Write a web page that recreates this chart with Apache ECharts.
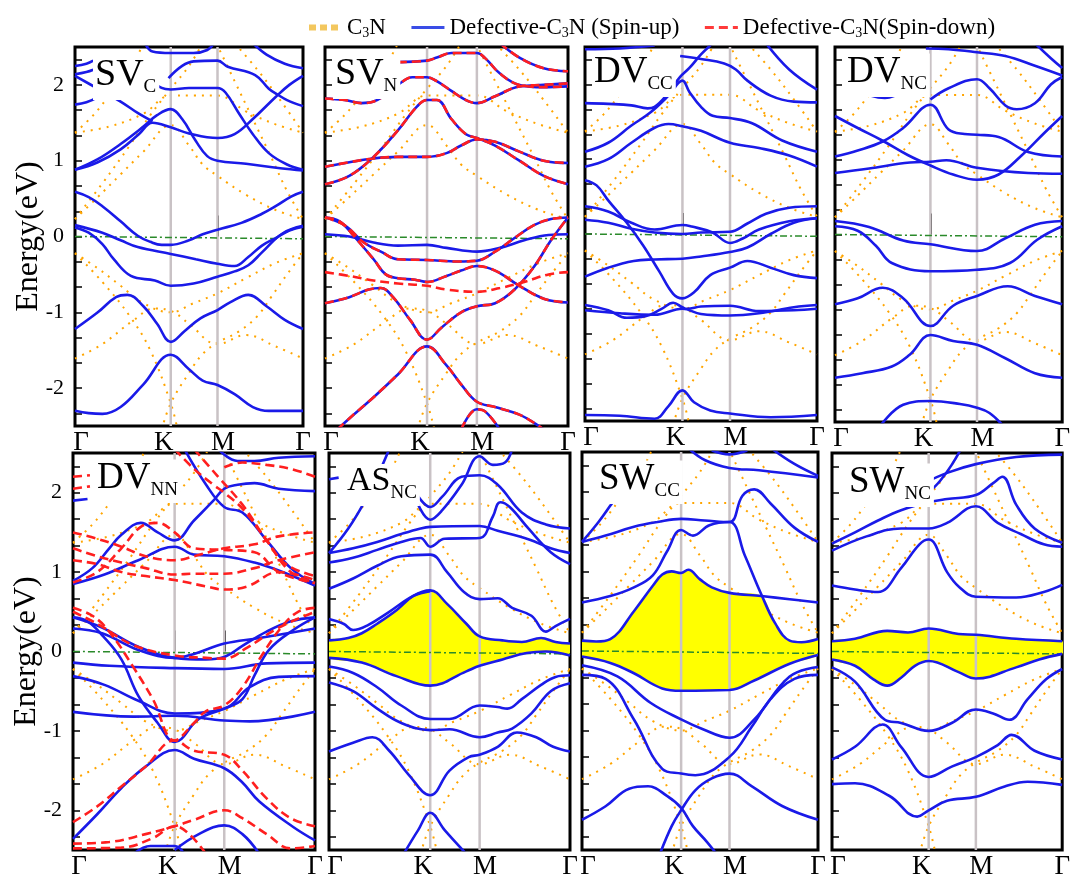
<!DOCTYPE html>
<html><head><meta charset="utf-8">
<script src="https://cdn.jsdelivr.net/npm/echarts@6/dist/echarts.min.js"></script>
<style>html,body{margin:0;padding:0;background:#fff}#chart{width:1073px;height:880px}</style>
</head><body><div id="chart"></div>
<script>
// ---------------- DATA ----------------
const xTickValues = [0, 0.42, 0.625, 1];          // Γ K M Γ
const xTickNames = ['Γ', 'K', 'M', 'Γ'];
const symPoints = [0.42, 0.625];                    // K, M
const yLabelValues = [-2, -1, 0, 1, 2];
const yTickValues = [-2.333,-2,-1.667,-1.333,-1,-0.667,-0.333,0,0.333,0.667,1,1.333,1.667,2,2.333];
const fermiLine = [[0, 0], [1, -0.03]];
const energyRange = [-2.5, 2.5];

// pristine C3N (dotted orange)
const c3nBands = [
 [[0,1.37],[0.15,1.45],[0.3,1.62],[0.42,1.86],[0.52,1.86],[0.625,1.86],[0.75,1.65],[0.88,1.48],[1,1.37]],
 [[0,0.23],[0.1,0.52],[0.2,0.82],[0.3,1.12],[0.42,1.47],[0.5,1.2],[0.56,0.95],[0.625,0.8],[0.75,0.55],[0.88,0.35],[1,0.23]],
 [[0,0.23],[0.12,0.7],[0.24,1.2],[0.33,1.6],[0.42,1.95],[0.5,2.25],[0.56,2.55]],
 [[0.62,2.55],[0.7,2.05],[0.78,1.55],[0.86,1.05],[0.93,0.6],[1,0.23]],
 [[0,-0.22],[0.1,-0.42],[0.2,-0.65],[0.3,-0.88],[0.42,-1.0],[0.52,-0.88],[0.625,-0.75],[0.75,-0.55],[0.88,-0.35],[1,-0.22]],
 [[0,-0.22],[0.12,-0.6],[0.24,-1.05],[0.33,-1.5],[0.42,-2.2],[0.45,-2.55]],
 [[0.38,-2.55],[0.42,-2.2],[0.5,-1.8],[0.56,-1.55],[0.625,-1.4],[0.72,-1.25],[0.8,-1.05],[0.86,-0.8],[0.93,-0.5],[1,-0.22]],
 [[0,-1.61],[0.12,-1.42],[0.25,-1.12],[0.35,-0.95],[0.42,-0.98],[0.5,-1.15],[0.625,-1.42],[0.75,-1.3],[0.88,-1.45],[1,-1.61]],
 [[0,1.37],[0.08,1.6],[0.16,1.9],[0.24,2.2],[0.3,2.55]],
 [[0.7,2.55],[0.8,2.2],[0.9,1.8],[1,1.37]]
];

// SV_C
const svC_up = [
 [[0,-2.30],[0.06,-2.33],[0.12,-2.34],[0.2,-2.25],[0.3,-1.95],[0.42,-1.56],[0.5,-1.75],[0.56,-1.9],[0.625,-1.96],[0.7,-2.08],[0.78,-2.25],[0.85,-2.30],[1,-2.30]],
 [[0,-1.22],[0.1,-1.0],[0.18,-0.8],[0.23,-0.77],[0.3,-0.92],[0.36,-1.15],[0.42,-1.39],[0.48,-1.25],[0.55,-1.08],[0.625,-0.97],[0.68,-0.87],[0.76,-0.77],[0.84,-0.92],[0.92,-1.1],[1,-1.22]],
 [[0,0.12],[0.06,0.05],[0.12,-0.1],[0.17,-0.3],[0.245,-0.52],[0.35,-0.58],[0.42,-0.65],[0.52,-0.62],[0.625,-0.53],[0.7,-0.46],[0.76,-0.38],[0.82,-0.21],[0.91,0.04],[1,0.14]],
 [[0,0.15],[0.12,0.05],[0.2,-0.05],[0.275,-0.14],[0.42,-0.23],[0.53,-0.3],[0.625,-0.36],[0.7,-0.39],[0.76,-0.27],[0.82,-0.12],[0.88,-0.02],[0.94,0.08],[1,0.13]],
 [[0,0.59],[0.06,0.52],[0.12,0.40],[0.2,0.2],[0.275,0.01],[0.33,-0.07],[0.38,-0.11],[0.42,-0.11],[0.5,-0.05],[0.56,0.03],[0.625,0.09],[0.73,0.18],[0.82,0.3],[0.88,0.4],[0.95,0.53],[1,0.59]],
 [[0,0.88],[0.1,1.02],[0.2,1.22],[0.3,1.45],[0.36,1.6],[0.42,1.68],[0.47,1.55],[0.53,1.26],[0.58,1.06],[0.625,1.0],[0.75,0.96],[0.9,0.9],[1,0.87]],
 [[0,0.88],[0.1,0.98],[0.2,1.15],[0.28,1.35],[0.34,1.5],[0.42,1.44],[0.5,1.36],[0.625,1.30],[0.7,1.35],[0.78,1.55],[0.88,1.84],[0.94,2.0],[1,2.12]],
 [[0,2.12],[0.1,1.95],[0.2,1.78],[0.28,1.62],[0.34,1.52]],
 [[0.33,2.08],[0.38,1.96],[0.42,1.94],[0.5,1.96],[0.625,1.96],[0.66,1.9],[0.72,1.62],[0.78,1.35],[0.85,1.1],[0.93,0.95],[1,0.88]],
 [[0.41,2.09],[0.47,2.25],[0.52,2.31],[0.625,2.32],[0.67,2.24],[0.79,2.13],[0.85,1.95],[0.89,1.87],[0.93,1.8],[1,1.72]],
 [[0,1.74],[0.05,1.77],[0.1,1.84]],
 [[0,2.25],[0.05,2.28],[0.08,2.32]],
 [[0,2.14],[0.05,2.17],[0.08,2.2]],
 [[0.3,2.6],[0.34,2.44],[0.42,2.42],[0.52,2.42],[0.58,2.46],[0.61,2.55]],
 [[0.78,2.55],[0.84,2.4],[0.92,2.28],[1,2.22]]
];

// SV_N : bands common to both spins, spin-up only, spin-down only
const svN_both = [
 [[0,0.92],[0.1,0.98],[0.2,1.03],[0.3,1.05],[0.42,1.05],[0.5,1.1],[0.56,1.2],[0.625,1.28],[0.7,1.25],[0.8,1.12],[0.9,1.0],[1,0.97]],
 [[0,0.69],[0.1,0.8],[0.2,1.05],[0.3,1.4],[0.38,1.72],[0.42,1.8],[0.46,1.8],[0.52,1.55],[0.58,1.35],[0.625,1.3],[0.7,1.2],[0.8,1.0],[0.9,0.8],[1,0.69]],
 [[0,1.82],[0.08,1.8],[0.15,1.76],[0.2,1.78],[0.3,2.0],[0.36,2.1],[0.42,2.1],[0.46,2.05],[0.52,1.92],[0.58,1.8],[0.625,1.76],[0.7,1.85],[0.8,1.98],[0.9,2.0],[1,2.02]],
 [[0.3,2.3],[0.42,2.32],[0.46,2.36],[0.52,2.42],[0.625,2.42],[0.66,2.35],[0.72,2.15],[0.8,2.0],[0.9,1.97],[1,1.98]],
 [[0.72,2.55],[0.8,2.36],[0.9,2.22],[1,2.18]],
 [[0,0.25],[0.06,0.2],[0.12,0.0],[0.2,-0.3],[0.25,-0.5],[0.3,-0.55],[0.37,-0.57],[0.42,-0.6],[0.5,-0.52],[0.56,-0.45],[0.625,-0.39],[0.7,-0.45],[0.8,-0.65],[0.9,-0.82],[1,-0.87]],
 [[0,0.25],[0.08,0.15],[0.16,-0.08],[0.23,-0.2],[0.3,-0.3],[0.42,-0.31],[0.55,-0.33],[0.625,-0.32],[0.7,-0.2],[0.78,-0.02],[0.86,0.15],[0.93,0.23],[1,0.25]],
 [[0,-0.88],[0.1,-0.8],[0.18,-0.7],[0.23,-0.68],[0.28,-0.8],[0.35,-1.1],[0.42,-1.36],[0.48,-1.2],[0.56,-1.0],[0.625,-0.92],[0.7,-0.88],[0.78,-0.7],[0.86,-0.4],[0.93,-0.05],[1,0.25]],
 [[0.05,-2.55],[0.1,-2.4],[0.2,-2.12],[0.3,-1.82],[0.42,-1.45],[0.5,-1.7],[0.56,-1.95],[0.625,-2.18],[0.7,-2.25],[0.8,-2.35],[0.88,-2.5],[0.92,-2.6]],
 [[0.56,-2.55],[0.625,-2.28],[0.66,-2.31],[0.72,-2.55]]
];
const svN_upOnly = [
 [[0,0.03],[0.1,0.0],[0.2,-0.08],[0.3,-0.12],[0.42,-0.11],[0.5,-0.15],[0.625,-0.2],[0.72,-0.15],[0.82,-0.05],[0.92,0.02],[1,0.03]]
];
const svN_downOnly = [
 [[0,-0.47],[0.1,-0.52],[0.2,-0.58],[0.3,-0.62],[0.42,-0.65],[0.5,-0.7],[0.625,-0.73],[0.72,-0.68],[0.82,-0.6],[0.92,-0.5],[1,-0.47]]
];

// DV_CC
const dvCC_up = [
 [[0,-2.42],[0.15,-2.43],[0.3,-2.47],[0.36,-2.3],[0.42,-2.09],[0.47,-2.25],[0.54,-2.36],[0.625,-2.4],[0.8,-2.45],[1,-2.42]],
 [[0,-0.95],[0.1,-1.02],[0.18,-1.12],[0.26,-1.1],[0.33,-1.0],[0.38,-0.92],[0.42,-0.98],[0.44,-1.0],[0.5,-0.97],[0.625,-0.96],[0.75,-1.03],[0.9,-1.02],[1,-1.0]],
 [[0,-1.02],[0.15,-1.06],[0.3,-1.08],[0.42,-1.0],[0.5,-1.07],[0.625,-1.09],[0.75,-1.06],[0.9,-0.98],[1,-0.95]],
 [[0,-0.57],[0.1,-0.45],[0.21,-0.36],[0.3,-0.34],[0.42,-0.33],[0.5,-0.3],[0.625,-0.24],[0.7,-0.18],[0.8,0.0],[0.9,0.15],[1,0.21]],
 [[0,0.72],[0.05,0.65],[0.1,0.45],[0.18,0.15],[0.25,-0.15],[0.32,-0.5],[0.38,-0.8],[0.42,-0.86],[0.47,-0.78],[0.54,-0.55],[0.625,-0.45],[0.7,-0.36],[0.8,-0.45],[0.9,-0.55],[1,-0.59]],
 [[0,0.37],[0.1,0.3],[0.2,0.15],[0.3,0.06],[0.42,0.12],[0.46,0.1],[0.55,0.02],[0.625,-0.12],[0.68,-0.06],[0.75,0.06],[0.88,0.17],[1,0.21]],
 [[0,0.19],[0.1,0.15],[0.2,0.07],[0.3,0.02],[0.42,0.0],[0.5,0.02],[0.625,0.03],[0.7,0.14],[0.78,0.27],[0.88,0.35],[1,0.37]],
 [[0,0.9],[0.1,1.0],[0.2,1.22],[0.3,1.42],[0.36,1.47],[0.42,1.44],[0.5,1.38],[0.625,1.22],[0.75,1.15],[0.88,1.05],[1,0.9]],
 [[0,1.1],[0.1,1.22],[0.2,1.45],[0.28,1.62],[0.36,1.85],[0.42,2.05],[0.45,1.9],[0.5,1.7],[0.55,1.58],[0.625,1.55],[0.72,1.48],[0.85,1.25],[1,1.1]],
 [[0,1.75],[0.1,1.74],[0.2,1.72],[0.27,1.68],[0.3,1.7],[0.35,1.85],[0.41,2.1],[0.45,2.22],[0.5,2.4],[0.55,2.55]],
 [[0.41,2.38],[0.5,2.34],[0.6,2.28],[0.65,2.2],[0.7,2.05],[0.8,1.85],[0.9,1.77],[1,1.76]],
 [[0.78,2.55],[0.88,2.2],[1,1.93]],
 [[0,2.47],[0.15,2.48],[0.3,2.52]]
];

// DV_NC
const dvNC_up = [
 [[0.2,-2.55],[0.3,-2.27],[0.42,-2.22],[0.55,-2.26],[0.625,-2.31],[0.68,-2.38],[0.74,-2.55]],
 [[0,-1.91],[0.12,-1.85],[0.25,-1.76],[0.33,-1.6],[0.42,-1.34],[0.52,-1.42],[0.625,-1.47],[0.75,-1.65],[0.88,-1.85],[1,-1.91]],
 [[0,-0.93],[0.1,-0.85],[0.21,-0.71],[0.3,-0.85],[0.42,-1.22],[0.52,-0.95],[0.625,-0.82],[0.76,-0.69],[0.88,-0.82],[1,-0.93]],
 [[0,0.11],[0.1,0.05],[0.18,-0.15],[0.25,-0.38],[0.42,-0.49],[0.625,-0.47],[0.77,-0.38],[0.89,-0.07],[1,0.11]],
 [[0,0.18],[0.15,0.1],[0.3,-0.08],[0.42,-0.13],[0.625,-0.22],[0.75,-0.05],[0.88,0.13],[1,0.18]],
 [[0,0.82],[0.15,0.88],[0.33,0.96],[0.42,0.97],[0.49,0.99],[0.625,0.89],[0.85,0.82],[1,0.81]],
 [[0,1.04],[0.1,1.12],[0.21,1.24],[0.3,1.42],[0.42,1.73],[0.5,1.4],[0.57,1.34],[0.625,1.33],[0.72,1.3],[0.85,1.1],[1,1.04]],
 [[0,1.58],[0.1,1.42],[0.21,1.25],[0.32,1.06],[0.42,0.92],[0.52,0.8],[0.625,0.73],[0.72,0.8],[0.82,1.05],[0.92,1.35],[1,1.58]],
 [[0.09,1.95],[0.16,1.85],[0.22,1.82],[0.28,1.87],[0.33,1.93]],
 [[0.42,1.8],[0.5,1.95],[0.625,2.07],[0.68,1.95],[0.75,1.72],[0.8,1.67],[0.88,1.75],[0.95,2.0],[1,2.1]],
 [[0.4,2.48],[0.5,2.47],[0.625,2.43],[0.75,2.38],[0.88,2.25],[1,2.12]],
 [[0.88,2.55],[0.95,2.35],[1,2.22]]
];

// DV_NN
const dvNN_up = [
 [[0,0.43],[0.06,0.38],[0.125,0.19],[0.2,-0.1],[0.27,-0.56],[0.35,-0.9],[0.42,-1.14],[0.52,-0.85],[0.625,-0.72],[0.7,-0.6],[0.75,-0.3],[0.81,0.02],[0.91,0.27],[1,0.43]],
 [[0,-2.36],[0.1,-2.05],[0.2,-1.72],[0.3,-1.45],[0.42,-1.24],[0.5,-1.35],[0.625,-1.47],[0.7,-1.65],[0.77,-1.89],[0.91,-2.21],[1,-2.38]],
 [[0,-0.14],[0.15,-0.18],[0.42,-0.21],[0.625,-0.22],[0.8,-0.15],[1,-0.14]],
 [[0,0.29],[0.12,0.23],[0.27,0.02],[0.42,-0.08],[0.5,-0.03],[0.625,0.1],[0.77,0.17],[1,0.29]],
 [[0,0.43],[0.12,0.3],[0.27,0.06],[0.42,-0.08],[0.55,-0.1],[0.625,-0.07],[0.7,0.07],[0.8,0.25],[0.9,0.38],[1,0.43]],
 [[0,-0.31],[0.13,-0.42],[0.27,-0.62],[0.42,-0.78],[0.625,-0.72],[0.73,-0.45],[0.85,-0.32],[1,-0.31]],
 [[0,-0.76],[0.25,-0.82],[0.42,-0.81],[0.625,-0.87],[0.73,-0.88],[1,-0.76]],
 [[0,0.85],[0.13,0.97],[0.27,1.15],[0.42,1.32],[0.5,1.22],[0.625,1.2],[0.75,1.12],[0.85,1.02],[1,0.83]],
 [[0,0.89],[0.08,1.05],[0.15,1.3],[0.2,1.47],[0.28,1.62],[0.35,1.5],[0.42,1.4],[0.5,1.65],[0.58,1.9],[0.625,2.05],[0.68,2.1],[0.75,2.12],[0.85,2.05],[1,2.02]],
 [[0.46,2.55],[0.55,2.1],[0.625,1.82],[0.7,1.75],[0.8,1.4],[0.9,1.05],[1,0.85]],
 [[0.6,2.55],[0.68,2.4],[0.75,2.4],[0.85,2.44],[1,2.46]],
 [[0,1.9],[0.06,1.92]],
 [[0.25,-2.55],[0.32,-2.45],[0.42,-2.45],[0.46,-2.55]],
 [[0.42,-2.5],[0.52,-2.3],[0.625,-2.19],[0.7,-2.3],[0.77,-2.55]]
];
const dvNN_down = [
 [[0,0.55],[0.08,0.45],[0.15,0.25],[0.25,-0.2],[0.33,-0.6],[0.42,-1.12],[0.5,-0.9],[0.55,-0.75],[0.625,-0.68],[0.7,-0.45],[0.78,-0.05],[0.86,0.3],[0.93,0.5],[1,0.55]],
 [[0,0.5],[0.1,0.35],[0.25,0.08],[0.42,-0.05],[0.55,-0.08],[0.625,-0.09],[0.72,0.05],[0.85,0.3],[1,0.5]],
 [[0,-2.15],[0.1,-1.95],[0.2,-1.7],[0.3,-1.45],[0.42,-1.12],[0.5,-1.25],[0.625,-1.3],[0.7,-1.5],[0.8,-1.85],[0.9,-2.1],[1,-2.2]],
 [[0,-2.42],[0.15,-2.4],[0.3,-2.3],[0.42,-2.2],[0.5,-2.12],[0.625,-2.0],[0.7,-2.1],[0.8,-2.3],[0.9,-2.48],[1,-2.45]],
 [[0,-2.48],[0.2,-2.47],[0.33,-2.35],[0.42,-2.2],[0.48,-2.3],[0.55,-2.55]],
 [[0,0.87],[0.1,1.0],[0.2,1.3],[0.28,1.57],[0.35,1.62],[0.42,1.5],[0.5,1.3],[0.625,1.28],[0.75,1.25],[0.85,1.0],[1,0.86]],
 [[0,1.5],[0.1,1.42],[0.2,1.32],[0.3,1.2],[0.42,1.15],[0.5,1.2],[0.625,1.3],[0.75,1.35],[0.85,1.45],[1,1.5]],
 [[0,1.3],[0.1,1.2],[0.2,1.12],[0.3,1.05],[0.42,0.97],[0.5,0.98],[0.625,0.98],[0.75,1.05],[0.85,1.15],[1,1.25]],
 [[0,1.15],[0.1,1.1],[0.2,1.0],[0.3,0.95],[0.42,0.9],[0.55,0.82],[0.625,0.78],[0.72,0.82],[0.85,1.0],[1,0.9]],
 [[0.42,2.55],[0.5,2.3],[0.58,2.1],[0.625,2.0],[0.7,1.8],[0.8,1.4],[0.9,1.0],[1,0.87]],
 [[0.5,2.55],[0.6,2.2],[0.7,1.85],[0.8,1.4],[0.88,1.1],[1,0.95]],
 [[0.625,2.32],[0.7,2.38],[0.8,2.35],[0.9,2.3],[1,2.2]],
 [[0,2.2],[0.07,2.22]],
 [[0,2.05],[0.07,2.08]]
];

// AS_NC (first two bands bound the yellow gap region)
const asNC_up = [
 [[0,0.14],[0.08,0.17],[0.136,0.23],[0.2,0.35],[0.28,0.52],[0.35,0.7],[0.42,0.77],[0.49,0.6],[0.57,0.35],[0.625,0.19],[0.72,0.14],[0.8,0.12],[0.88,0.17],[0.94,0.12],[1,0.1]],
 [[0,-0.08],[0.136,-0.14],[0.28,-0.31],[0.42,-0.43],[0.57,-0.25],[0.625,-0.18],[0.72,-0.1],[0.82,-0.02],[0.9,0.0],[1,-0.05]],
 [[0,-0.19],[0.1,-0.27],[0.2,-0.45],[0.3,-0.68],[0.42,-0.85],[0.5,-0.85],[0.625,-0.68],[0.7,-0.7],[0.74,-0.72],[0.8,-0.6],[0.88,-0.42],[0.94,-0.32],[1,-0.3]],
 [[0,-0.39],[0.1,-0.5],[0.2,-0.72],[0.3,-0.9],[0.42,-0.99],[0.5,-0.98],[0.625,-1.08],[0.7,-1.02],[0.76,-0.97],[0.84,-0.78],[0.92,-0.5],[1,-0.4]],
 [[0,-1.26],[0.1,-1.15],[0.18,-1.08],[0.25,-1.25],[0.33,-1.55],[0.42,-1.81],[0.5,-1.5],[0.58,-1.33],[0.625,-1.3],[0.7,-1.2],[0.78,-1.02],[0.86,-1.08],[0.93,-1.2],[1,-1.26]],
 [[0.31,-2.55],[0.37,-2.25],[0.42,-2.03],[0.48,-2.25],[0.57,-2.55]],
 [[0,0.79],[0.1,0.92],[0.2,1.08],[0.3,1.2],[0.42,1.22],[0.49,1.0],[0.56,0.75],[0.625,0.66],[0.7,0.67],[0.76,0.55],[0.84,0.45],[0.9,0.25],[0.94,0.32],[1,0.41]],
 [[0,0.41],[0.06,0.35],[0.1,0.27],[0.16,0.33],[0.25,0.5],[0.35,0.7],[0.42,0.76]],
 [[0,1.12],[0.1,1.18],[0.2,1.28],[0.3,1.38],[0.38,1.43],[0.42,1.32],[0.48,1.42],[0.625,1.43],[0.68,1.7],[0.71,1.88],[0.75,1.82],[0.83,1.54],[0.92,1.25],[1,1.1]],
 [[0,1.24],[0.1,1.3],[0.2,1.38],[0.3,1.48],[0.38,1.55],[0.42,1.57],[0.625,1.58],[0.7,1.52],[0.83,1.41],[0.92,1.3],[1,1.24]],
 [[0.36,2.0],[0.42,1.82],[0.47,1.95],[0.55,2.2],[0.625,2.22],[0.7,2.1],[0.8,1.75],[0.9,1.6],[1,1.55]],
 [[0.36,1.92],[0.42,1.66],[0.47,1.78],[0.55,2.1],[0.625,2.46],[0.68,2.35],[0.73,2.38],[0.76,2.55]],
 [[0,1.24],[0.08,1.55],[0.15,1.9],[0.2,2.2],[0.25,2.55]],
 [[0,2.17],[0.04,2.19]]
];

// SW_CC (bands 0 and 1 bound the gap region, band 2 closes it near Γ)
const swCC_up = [
 [[0,0.13],[0.06,0.12],[0.12,0.15],[0.22,0.5],[0.3,0.82],[0.34,0.96],[0.38,1.0],[0.42,0.98],[0.45,1.02],[0.5,0.9],[0.55,0.8],[0.625,0.73],[0.76,0.69],[0.88,0.65],[1,0.61]],
 [[0,-0.07],[0.12,-0.15],[0.22,-0.28],[0.34,-0.47],[0.42,-0.5],[0.625,-0.49],[0.73,-0.37],[0.88,-0.16],[1,-0.05]],
 [[0,0.61],[0.12,0.69],[0.22,0.8],[0.3,0.95],[0.36,1.25],[0.42,1.52],[0.47,1.45],[0.54,1.58],[0.625,1.62],[0.69,1.2],[0.76,0.71],[0.82,0.34],[0.88,0.13],[0.93,0.11],[1,0.15]],
 [[0,1.37],[0.1,1.45],[0.22,1.56],[0.32,1.62],[0.42,1.66],[0.52,1.64],[0.625,1.62],[0.68,1.95],[0.73,2.03],[0.8,1.85],[0.9,1.55],[1,1.37]],
 [[0,-0.18],[0.15,-0.32],[0.29,-0.65],[0.42,-0.86],[0.51,-0.98],[0.625,-1.09],[0.73,-0.86],[0.88,-0.32],[1,-0.2]],
 [[0,-0.3],[0.1,-0.35],[0.22,-0.86],[0.34,-1.48],[0.42,-1.54],[0.48,-1.56],[0.625,-1.33],[0.72,-0.95],[0.8,-0.6],[0.9,-0.35],[1,-0.3]],
 [[0,-2.12],[0.1,-1.95],[0.2,-1.73],[0.28,-1.7],[0.36,-1.82],[0.42,-1.97],[0.47,-2.2],[0.53,-2.4],[0.57,-2.55]],
 [[0.33,-2.55],[0.38,-2.2],[0.42,-2.0],[0.48,-1.75],[0.55,-1.6],[0.625,-1.54],[0.72,-1.7],[0.85,-1.95],[1,-2.12]],
 [[0.45,2.55],[0.52,2.4],[0.625,2.3],[0.75,2.27],[1,2.18]],
 [[0.55,2.52],[0.625,2.47],[0.7,2.52]],
 [[0.8,2.55],[0.9,2.35],[1,2.2]],
 [[0,1.37],[0.07,1.62],[0.13,1.87],[0.17,2.05]]
];

// SW_NC (first two bands bound the yellow gap region)
const swNC_up = [
 [[0,0.13],[0.1,0.16],[0.24,0.26],[0.33,0.24],[0.42,0.29],[0.55,0.22],[0.625,0.21],[0.8,0.16],[1,0.13]],
 [[0,-0.1],[0.1,-0.18],[0.18,-0.35],[0.24,-0.43],[0.3,-0.33],[0.36,-0.18],[0.42,-0.12],[0.55,-0.26],[0.625,-0.34],[0.8,-0.2],[0.9,-0.1],[1,-0.03]],
 [[0,-0.2],[0.1,-0.38],[0.23,-0.86],[0.3,-0.9],[0.42,-1.0],[0.52,-0.9],[0.625,-0.73],[0.7,-0.78],[0.77,-0.86],[0.85,-0.6],[0.93,-0.35],[1,-0.22]],
 [[0,-1.36],[0.1,-1.2],[0.22,-0.92],[0.3,-1.2],[0.42,-1.58],[0.52,-1.45],[0.625,-1.33],[0.72,-1.18],[0.78,-1.05],[0.88,-1.25],[1,-1.36]],
 [[0,-1.67],[0.1,-1.66],[0.25,-1.82],[0.37,-2.08],[0.42,-2.0],[0.5,-1.88],[0.625,-1.83],[0.75,-1.7],[0.85,-1.64],[1,-1.68]],
 [[0,0.83],[0.1,0.78],[0.2,0.75],[0.3,1.05],[0.38,1.35],[0.42,1.41],[0.5,1.0],[0.55,0.82],[0.625,0.69],[0.8,0.68],[0.92,0.75],[1,0.84]],
 [[0,1.27],[0.15,1.45],[0.3,1.55],[0.42,1.55],[0.5,1.62],[0.625,1.83],[0.72,1.62],[0.82,1.48],[0.92,1.35],[1,1.32]],
 [[0,1.36],[0.1,1.5],[0.2,1.65],[0.3,1.78],[0.42,1.88],[0.5,1.92],[0.625,1.97],[0.7,2.12],[0.74,2.2],[0.8,1.85],[0.88,1.55],[1,1.37]],
 [[0.4,2.12],[0.5,2.25],[0.625,2.36],[0.8,2.45],[1,2.48]],
 [[0.42,2.0],[0.47,2.15],[0.52,2.35],[0.56,2.55]]
];

// ---------------- LAYOUT / OPTIONS ----------------
const FONT = '"Liberation Serif","DejaVu Serif",serif';
const BLUE = '#1a1ae8', RED = '#ff1f1f', ORANGE = '#ffa500', GREEN = '#2a8a2a', GRAY = '#c9c2c5';
const NAME_C3N = 'C3N', NAME_UP = 'Defective-C3N (Spin-up)', NAME_DN = 'Defective-C3N(Spin-down)';

const panels = [
 {box:[75,47,228,379],  title:['SV','C'],  tpos:[93,53],  tsize:38, ylab:true,  up:svC_up, down:[]},
 {box:[325,47,243,379], title:['SV','N'],  tpos:[333,52], tsize:38, ylab:false, up:svN_both.concat(svN_upOnly), down:svN_both.concat(svN_downOnly)},
 {box:[585,47,232,374], title:['DV','CC'], tpos:[592,50], tsize:37, ylab:false, up:dvCC_up, down:[]},
 {box:[835,47,233,375], title:['DV','NC'], tpos:[845,50], tsize:37, ylab:false, up:dvNC_up, down:[]},
 {box:[73,453,242,402], title:['DV','NN'], tpos:[95,456], tsize:37, ylab:true,  up:dvNN_up, down:dvNN_down},
 {box:[329,453,241,402],title:['AS','NC'], tpos:[345,459], tsize:34, ylab:false, up:asNC_up, down:[],
   fill:{upper:asNC_up[0], lower:asNC_up[1]}},
 {box:[582,452,236,401],title:['SW','CC'], tpos:[597,457], tsize:37, ylab:false, up:swCC_up, down:[],
   fill:{upper:swCC_up[0].filter(p=>p[0]<=0.76).concat(swCC_up[2].filter(p=>p[0]>0.76)), lower:swCC_up[1]}},
 {box:[832,453,236,400],title:['SW','NC'], tpos:[847,460], tsize:37, ylab:false, up:swNC_up, down:[],
   fill:{upper:swNC_up[0], lower:swNC_up[1]}}
];

const grids = [], xAxes = [], yAxes = [], series = [], titles = [];

function lineSeries(i, name, data, lineStyle, z) {
  return {type:'line', name:name, xAxisIndex:i, yAxisIndex:i, data:data, symbol:'none', showSymbol:false,
    smooth:0.4, silent:true, z:z, clip:true, lineStyle:lineStyle, emphasis:{disabled:true}, animation:false};
}

panels.forEach((p, i) => {
  grids.push({left:p.box[0], top:p.box[1], width:p.box[2], height:p.box[3], show:true,
    borderColor:'#000', borderWidth:3, backgroundColor:'rgba(0,0,0,0)'});
  xAxes.push({type:'value', gridIndex:i, min:0, max:1,
    axisLine:{show:false}, splitLine:{show:false},
    axisTick:{show:true, inside:true, length:21, customValues:symPoints, lineStyle:{color:'#000', width:2}},
    axisLabel:{show:true, customValues:xTickValues, margin:3, color:'#000', fontFamily:FONT, fontSize:27,
      formatter:function(v){
        const idx = xTickValues.indexOf(v);
        const tag = ['g','k','m','r'][idx];
        return '{' + tag + '|' + xTickNames[idx] + '}';
      },
      rich:{
        g:{fontSize:27, fontFamily:FONT, color:'#000', padding:[0,0,0,12]},
        k:{fontSize:27, fontFamily:FONT, color:'#000', padding:[0,14,0,0]},
        m:{fontSize:27, fontFamily:FONT, color:'#000', padding:[0,0,0,11]},
        r:{fontSize:27, fontFamily:FONT, color:'#000'}
      }}});
  yAxes.push({type:'value', gridIndex:i, min:energyRange[0], max:energyRange[1],
    axisLine:{show:false}, splitLine:{show:false},
    axisTick:{show:true, inside:true, length:7, customValues:yTickValues, lineStyle:{color:'#000', width:1.5}},
    axisLabel:{show:p.ylab, customValues:yLabelValues, margin:11, color:'#000', fontFamily:FONT, fontSize:22},
    name:p.ylab ? 'Energy(eV)' : '', nameLocation:'middle', nameGap:30, nameRotate:90, nameMoveOverlap:false,
    nameTextStyle:{fontFamily:FONT, fontSize:32, color:'#000'}});

  c3nBands.forEach(b => series.push(lineSeries(i, NAME_C3N, b, {color:ORANGE, width:2, type:[2,6]}, 1)));
  if (p.fill) {
    const up = p.fill.upper, lo = p.fill.lower;
    series.push({type:'custom', xAxisIndex:i, yAxisIndex:i, silent:true, z:2, clip:true, animation:false,
      data:[0],
      renderItem:function(params, api){
        const pts = up.map(q => api.coord(q)).concat(lo.slice().reverse().map(q => api.coord(q)));
        return {type:'polygon', shape:{points:pts, smooth:0.3}, style:{fill:'#ffff00', stroke:null}};
      }});
  }
  symPoints.forEach(xv => series.push(lineSeries(i, 'sym', [[xv, energyRange[0]], [xv, energyRange[1]]],
    {color:GRAY, width:2.5}, 3)));
  series.push(lineSeries(i, 'EF', fermiLine, {color:GREEN, width:1.5, type:[7,3,2,3]}, 3));
  p.up.forEach(b => series.push(lineSeries(i, NAME_UP, b, {color:BLUE, width:2.6}, 4)));
  p.down.forEach(b => series.push(lineSeries(i, NAME_DN, b, {color:RED, width:2.6, type:[9,5]}, 5)));

  titles.push({text:'{a|' + p.title[0] + '}{b|' + p.title[1] + '}', left:p.tpos[0], top:p.tpos[1],
    backgroundColor:'#fff', padding:[0,3,3,2], z:10,
    textStyle:{fontWeight:'normal', rich:{
      a:{fontSize:p.tsize, fontFamily:FONT, fontWeight:'normal', color:'#000', lineHeight:44},
      b:{fontSize:19, fontFamily:FONT, fontWeight:'normal', color:'#000', lineHeight:19, verticalAlign:'bottom'}}}});
});

const hideSym = {opacity:0, color:'rgba(0,0,0,0)', borderWidth:0};
const option = {
  backgroundColor:'#fff',
  animation:false,
  title:titles,
  legend:{
    left:301, top:11, itemWidth:33, itemHeight:14, itemGap:24, selectedMode:false,
    data:[
      {name:NAME_C3N, itemStyle:hideSym, lineStyle:{color:'#f3c75e', width:6, type:[7,4]}},
      {name:NAME_UP, itemStyle:hideSym, lineStyle:{color:'#3a4de6', width:3}},
      {name:NAME_DN, itemStyle:hideSym, lineStyle:{color:'#ff3a3a', width:3, type:[9,5]}}
    ],
    formatter:function(name){
      if (name === NAME_C3N) return '{n|C}{s|3}{n|N}';
      if (name === NAME_UP) return '{n|Defective-C}{s|3}{n|N (Spin-up)}';
      return '{n|Defective-C}{s|3}{n|N(Spin-down)}';
    },
    textStyle:{fontFamily:FONT, fontSize:23, color:'#000',
      rich:{n:{fontFamily:FONT, fontSize:23, color:'#000', lineHeight:26},
            s:{fontFamily:FONT, fontSize:14, color:'#000', lineHeight:14, verticalAlign:'bottom'}}}
  },
  grid:grids, xAxis:xAxes, yAxis:yAxes, series:series
};

const chart = echarts.init(document.getElementById('chart'), null, {renderer:'canvas'});
chart.setOption(option);
</script>
</body></html>
